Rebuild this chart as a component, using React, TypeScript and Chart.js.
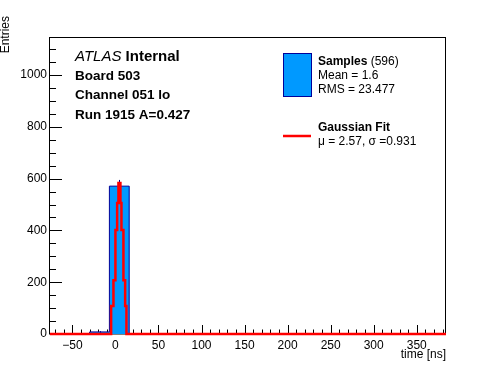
import { useEffect, useRef } from "react";
import { Chart, registerables } from "chart.js";

Chart.register(...registerables);

const FONT = "'Liberation Sans', Arial, Helvetica, sans-serif";

// Histogram binning and contents
const binStart = -76;
const binWidth = 23;
const binCounts = [0, 0, 8, 571, 0, 0, 0, 0, 0, 0, 0, 0, 0, 0, 0, 0, 0, 0, 0, 0];
const binErrors = [0, 0, 3, 24, 0, 0, 0, 0, 0, 0, 0, 0, 0, 0, 0, 0, 0, 0, 0, 0];

// Gaussian fit curve as drawn (stepped)
const fitX = [-76, -5.0, -2.3, 0, 2.0, 3.5, 5.8, 7.0, 9.3, 11.3, 12.8, 384];
const fitY = [0, 108, 208, 402, 506, 583, 506, 402, 208, 108, 0, 0];

// Axes
const xMin = -76;
const xMax = 384;
const yMin = 0;
const yMax = 1147;
const xMajorTicks = [-50, 0, 50, 100, 150, 200, 250, 300, 350];
const yMajorTicks = [0, 200, 400, 600, 800, 1000];

// Texts
const xTitle = "time [ns]";
const yTitle = "Entries";
const atlasLabel = "ATLAS";
const atlasSub = "Internal";
const infoLines = ["Board 503", "Channel 051 lo", "Run 1915 A=0.427"];
const legendSamples = ["Samples", " (596)", "Mean = 1.6", "RMS = 23.477"];
const legendFit = ["Gaussian Fit", "\u03bc = 2.57, \u03c3 =0.931"];

const HIST_FILL = "#0099ff";
const HIST_LINE = "#000099";
const FIT_LINE = "#ff0000";

const decorPlugin = {
  id: "rootDecor",
  beforeDatasetsDraw(chart: any) {
    const { ctx, chartArea, scales } = chart;
    const { left, top, right, bottom } = chartArea;
    const xs = scales.x;
    const ys = scales.y;
    ctx.save();
    ctx.strokeStyle = "#000";
    ctx.lineWidth = 1;
    ctx.strokeRect(Math.round(left) - 0.5, Math.round(top) + 0.5, Math.round(right - left), Math.round(bottom - top) - 0.5);
    ctx.beginPath();
    for (let v = -70; v <= 380; v += 10) {
      const px = Math.round(xs.getPixelForValue(v)) + 0.5;
      const major = xMajorTicks.includes(v);
      const len = major ? 9 : 4.5;
      ctx.moveTo(px, bottom);
      ctx.lineTo(px, bottom - len);
    }
    for (let v = 0; v <= 1100; v += 50) {
      const py = Math.round(ys.getPixelForValue(v)) + 0.5;
      const major = yMajorTicks.includes(v);
      const len = major ? 12 : 6;
      ctx.moveTo(left, py);
      ctx.lineTo(left + len, py);
    }
    ctx.stroke();
    ctx.restore();
  },
  afterDatasetDraw(chart: any, args: any) {
    if (args.index !== 0) return;
    const { ctx, scales } = chart;
    const xs = scales.x;
    const ys = scales.y;
    ctx.save();
    ctx.strokeStyle = HIST_LINE;
    ctx.lineWidth = 1;
    ctx.beginPath();
    binCounts.forEach((c, i) => {
      const e = binErrors[i];
      if (c <= 0 || e <= 0) return;
      const cx = Math.round(xs.getPixelForValue(binStart + (i + 0.5) * binWidth)) + 0.5;
      ctx.moveTo(cx, ys.getPixelForValue(c - e));
      ctx.lineTo(cx, ys.getPixelForValue(c + e));
    });
    ctx.stroke();
    ctx.restore();
  },
  afterDraw(chart: any) {
    const { ctx, chartArea } = chart;
    ctx.save();
    ctx.fillStyle = "#000";
    ctx.textBaseline = "middle";
    ctx.textAlign = "left";

    // y axis title
    ctx.save();
    ctx.font = `12px ${FONT}`;
    ctx.translate(6, 16);
    ctx.rotate(-Math.PI / 2);
    ctx.textAlign = "right";
    ctx.fillText(yTitle, 0, 0);
    ctx.restore();

    // x axis title
    ctx.font = `12px ${FONT}`;
    ctx.textAlign = "right";
    ctx.fillText(xTitle, chartArea.right, 355);
    ctx.textAlign = "left";

    // ATLAS label
    ctx.font = `italic 15px ${FONT}`;
    ctx.fillText(atlasLabel, 75, 57);
    const w = ctx.measureText(atlasLabel + " ").width;
    ctx.font = `bold 15px ${FONT}`;
    ctx.fillText(atlasSub, 75 + w, 57);
    ctx.font = `bold 13.5px ${FONT}`;
    infoLines.forEach((t, i) => ctx.fillText(t, 75, 76 + i * 19.5));

    // Legend: samples
    ctx.fillStyle = HIST_FILL;
    ctx.fillRect(283, 53, 28, 44);
    ctx.strokeStyle = HIST_LINE;
    ctx.lineWidth = 1;
    ctx.strokeRect(283.5, 53.5, 28, 43);
    ctx.fillStyle = "#000";
    ctx.font = `bold 12px ${FONT}`;
    ctx.fillText(legendSamples[0], 318, 62);
    const sw = ctx.measureText(legendSamples[0]).width;
    ctx.font = `12px ${FONT}`;
    ctx.fillText(legendSamples[1], 318 + sw, 62);
    ctx.fillText(legendSamples[2], 318, 76);
    ctx.fillText(legendSamples[3], 318, 90);

    // Legend: fit
    ctx.strokeStyle = FIT_LINE;
    ctx.lineWidth = 2.5;
    ctx.beginPath();
    ctx.moveTo(283, 136);
    ctx.lineTo(311, 136);
    ctx.stroke();
    ctx.font = `bold 12px ${FONT}`;
    ctx.fillText(legendFit[0], 318, 128);
    ctx.font = `12px ${FONT}`;
    ctx.fillText(legendFit[1], 318, 142);
    ctx.restore();
  },
};

export default function App() {
  const canvasRef = useRef<HTMLCanvasElement | null>(null);

  useEffect(() => {
    if (!canvasRef.current) return;
    const histData = binCounts.map((c, i) => ({ x: binStart + i * binWidth, y: c }));
    histData.push({ x: binStart + binCounts.length * binWidth, y: binCounts[binCounts.length - 1] });
    const fitData = fitX.map((x, i) => ({ x, y: fitY[i] }));

    const tickFont = { family: FONT, size: 12 };
    const chart = new Chart(canvasRef.current, {
      type: "line",
      data: {
        datasets: [
          {
            label: "Samples",
            data: histData,
            stepped: "before",
            fill: "origin",
            backgroundColor: HIST_FILL,
            borderColor: HIST_LINE,
            borderWidth: 1,
            pointRadius: 0,
            order: 2,
            clip: false,
          },
          {
            label: "Gaussian Fit",
            data: fitData,
            stepped: "before",
            fill: false,
            borderColor: FIT_LINE,
            borderWidth: 2.5,
            pointRadius: 0,
            order: 1,
            clip: false,
          },
        ],
      },
      options: {
        animation: false,
        responsive: false,
        devicePixelRatio: 1,
        layout: { padding: { top: 37, right: 50, left: 0, bottom: 0 } },
        plugins: { legend: { display: false }, tooltip: { enabled: false } },
        scales: {
          x: {
            type: "linear",
            min: xMin,
            max: xMax,
            afterFit: (s: any) => {
              s.height = 38;
            },
            grid: { display: false, drawTicks: false },
            border: { display: false },
            ticks: {
              stepSize: 50,
              includeBounds: false,
              padding: 4,
              maxRotation: 0,
              autoSkip: false,
              color: "#000",
              font: tickFont,
              callback: (v: any) => String(v).replace("-", "\u2212"),
            },
          },
          y: {
            type: "linear",
            min: yMin,
            max: yMax,
            afterFit: (s: any) => {
              s.width = 50;
            },
            grid: { display: false, drawTicks: false },
            border: { display: false },
            ticks: {
              stepSize: 200,
              includeBounds: false,
              padding: 3,
              color: "#000",
              font: tickFont,
              callback: (v: any) => String(v),
            },
          },
        },
      },
      plugins: [decorPlugin],
    });
    return () => chart.destroy();
  }, []);

  return (
    <div style={{ position: "absolute", left: 0, top: 0, width: 496, height: 372, background: "#fff" }}>
      <canvas ref={canvasRef} width={496} height={372} style={{ display: "block", width: 496, height: 372 }} />
    </div>
  );
}
